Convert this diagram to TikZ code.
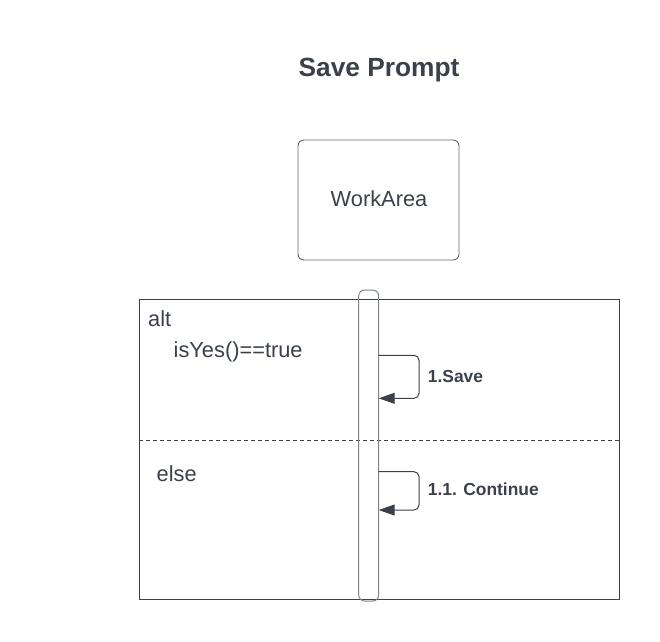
\documentclass[tikz,border=0pt]{standalone}
\usepackage{fontspec}
\setmainfont{Liberation Sans}
\usetikzlibrary{arrows.meta}
\definecolor{txt}{HTML}{3A414A}
\definecolor{ln}{HTML}{3A414A}
\definecolor{barln}{HTML}{7F858C}
\tikzset{
  x=1pt, y=-1pt,
  plain/.style={text=txt, inner sep=0pt, font=\fontsize{21.8}{24}\selectfont},
  msglabel/.style={text=txt, inner sep=0pt, anchor=base west, font=\bfseries\fontsize{17.4}{20}\selectfont},
  selfmsg/.style={draw=ln, line width=1pt, rounded corners=5pt, -{Triangle[length=16pt,width=11pt]}},
  lifebox/.style={draw=ln!80, line width=0.9pt, rounded corners=6pt, minimum width=161pt, minimum height=120pt, inner sep=0pt},
  actbar/.style={draw=barln, line width=1pt, rounded corners=6pt, minimum width=20pt, minimum height=311pt, inner sep=0pt},
  framebox/.style={draw=ln, line width=0.9pt, minimum width=480pt, minimum height=299.5pt, inner sep=0pt}
}
\begin{document}
\begin{tikzpicture}
\useasboundingbox (0,0) rectangle (660,641);
\fill[white] (0,0) rectangle (660,641);
% title
\node[text=txt, inner sep=0pt, anchor=base, font=\bfseries\fontsize{26.3}{30}\selectfont] (title) at (379,76) {Save Prompt};
% lifeline head
\node[lifebox] (wa) at (378.5,200) {};
\node[plain, anchor=base] (watext) at (379,206) {WorkArea};
% frame
\node[framebox] (frame) at (379.3,449.6) {};
\coordinate (dl) at (139.3,440);
\coordinate (dr) at (619.3,440);
\draw[ln, line width=0.8pt, dash pattern=on 4pt off 3pt] (dl) -- (dr);
% activation bar
\node[actbar] (bar) at (368.7,445.5) {};
% texts
\node[plain, anchor=base west] (alt) at (148,326) {alt};
\node[plain, anchor=base west] (cond) at (173.5,357) {isYes()==true};
\node[plain, anchor=base west] (else) at (156.5,481) {else};
% self message 1
\coordinate (s1a) at (378.7,355.3);
\coordinate (s1b) at (378.7,398.3);
\draw[selfmsg] (s1a) -- (419,355.3) -- (419,398.3) -- (s1b);
\node[msglabel] (l1) at (427.7,382) {1.Save};
% self message 2
\coordinate (s2a) at (378.7,471.7);
\coordinate (s2b) at (378.7,510);
\draw[selfmsg] (s2a) -- (419,471.7) -- (419,510) -- (s2b);
\node[msglabel] (l2) at (427.7,495) {1.1. Continue};
\end{tikzpicture}
\end{document}
